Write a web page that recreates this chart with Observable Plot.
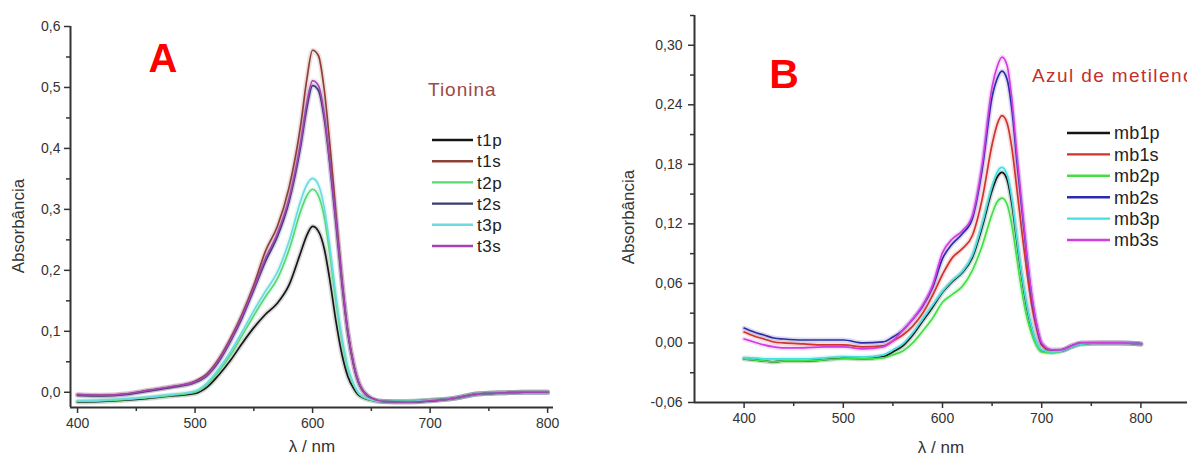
<!DOCTYPE html>
<html><head><meta charset="utf-8">
<script src="https://cdn.jsdelivr.net/npm/d3@7"></script>
<script src="https://cdn.jsdelivr.net/npm/@observablehq/plot@0.6"></script>
<style>
html,body{margin:0;padding:0;background:#fff;overflow:hidden;}
#wrap{position:relative;width:1187px;height:460px;overflow:hidden;font-family:"Liberation Sans",Arial,sans-serif;}
#wrap > *{position:absolute;top:0;}
</style></head><body><div id="wrap"></div>
<script>
// ---------- Panel A (Tionina) ----------
const wavelengthsA = [400,420,440,460,480,500,510,520,530,540,550,560,570,580,590,595,600,605,610,615,620,625,630,635,640,650,660,680,700,720,740,760,780,800];
const t1p = [-0.016,-0.015,-0.013,-0.010,-0.006,-0.002,0.008,0.028,0.052,0.080,0.106,0.128,0.146,0.176,0.230,0.257,0.272,0.264,0.235,0.180,0.115,0.062,0.026,0.006,-0.006,-0.013,-0.015,-0.015,-0.013,-0.010,-0.003,-0.001,0.000,0.000];
const t1s = [-0.004,-0.005,-0.003,0.003,0.009,0.018,0.030,0.054,0.088,0.128,0.176,0.232,0.272,0.336,0.440,0.512,0.561,0.552,0.495,0.400,0.290,0.185,0.100,0.045,0.012,-0.010,-0.015,-0.016,-0.014,-0.010,-0.003,-0.001,0.000,0.000];
const t2p = [-0.015,-0.014,-0.012,-0.009,-0.005,0.000,0.012,0.034,0.061,0.093,0.126,0.157,0.186,0.234,0.298,0.322,0.333,0.322,0.287,0.222,0.148,0.085,0.038,0.012,-0.004,-0.013,-0.015,-0.015,-0.013,-0.010,-0.003,-0.001,0.000,0.000];
const t2s = [-0.005,-0.006,-0.004,0.002,0.008,0.016,0.027,0.050,0.083,0.122,0.168,0.215,0.255,0.313,0.405,0.465,0.503,0.495,0.448,0.368,0.275,0.178,0.097,0.044,0.012,-0.010,-0.015,-0.016,-0.014,-0.010,-0.003,-0.001,0.000,0.000];
const t3p = [-0.014,-0.013,-0.011,-0.008,-0.004,0.002,0.015,0.038,0.066,0.099,0.134,0.166,0.197,0.248,0.315,0.340,0.351,0.340,0.302,0.234,0.156,0.090,0.041,0.013,-0.003,-0.012,-0.015,-0.015,-0.013,-0.010,-0.003,-0.001,0.000,0.000];
const t3s = [-0.004,-0.005,-0.003,0.003,0.009,0.017,0.028,0.052,0.085,0.125,0.171,0.220,0.260,0.318,0.412,0.473,0.511,0.503,0.455,0.373,0.280,0.182,0.099,0.045,0.013,-0.010,-0.015,-0.016,-0.014,-0.010,-0.003,-0.001,0.000,0.000];
const namesA = ["t1p","t1s","t2p","t2s","t3p","t3s"];
const colorsA = ["#161616","#8e4038","#58d874","#3c3c6e","#6adbe2","#a444b4"];
const xDomainA = [394, 805];
const yDomainA = [-0.025, 0.6];
const xTicksA = [400,500,600,700,800];
const xMinorA = [450,550,650,750];
const yTicksA = [0.0,0.1,0.2,0.3,0.4,0.5,0.6];
const yMinorA = [0.05,0.15,0.25,0.35,0.45,0.55];

// ---------- Panel B (Azul de metileno) ----------
const wavelengthsB = [400,410,420,430,440,460,480,500,520,540,550,560,570,580,590,600,610,620,630,640,650,655,660,665,670,675,680,685,690,695,700,710,720,730,740,760,780,800];
const mb1p = [-0.016,-0.017,-0.018,-0.019,-0.018,-0.018,-0.017,-0.015,-0.016,-0.014,-0.009,-0.003,0.008,0.022,0.036,0.051,0.062,0.071,0.086,0.117,0.154,0.167,0.172,0.165,0.140,0.102,0.066,0.036,0.014,-0.001,-0.008,-0.009,-0.008,-0.004,-0.001,0.000,0.000,-0.001];
const mb1s = [0.011,0.007,0.004,0.001,0.000,-0.001,-0.002,-0.002,-0.004,-0.003,0.002,0.008,0.017,0.030,0.048,0.069,0.086,0.095,0.108,0.145,0.200,0.220,0.229,0.222,0.196,0.155,0.112,0.072,0.038,0.014,-0.002,-0.008,-0.007,-0.003,0.000,0.000,0.000,-0.001];
const mb2p = [-0.016,-0.017,-0.018,-0.019,-0.018,-0.018,-0.017,-0.016,-0.016,-0.015,-0.012,-0.008,0.000,0.012,0.025,0.041,0.049,0.057,0.073,0.098,0.130,0.142,0.146,0.140,0.118,0.085,0.052,0.026,0.009,-0.003,-0.009,-0.010,-0.008,-0.004,-0.001,0.000,0.000,-0.001];
const mb2s = [0.015,0.011,0.008,0.005,0.004,0.003,0.003,0.003,0.000,0.001,0.006,0.013,0.024,0.037,0.056,0.085,0.100,0.110,0.125,0.175,0.248,0.266,0.274,0.266,0.235,0.183,0.135,0.087,0.046,0.017,-0.001,-0.007,-0.007,-0.003,0.000,0.000,0.000,-0.001];
const mb3p = [-0.015,-0.015,-0.016,-0.016,-0.016,-0.016,-0.015,-0.014,-0.014,-0.012,-0.007,-0.001,0.010,0.024,0.038,0.052,0.063,0.072,0.088,0.120,0.158,0.172,0.177,0.170,0.145,0.105,0.068,0.038,0.015,0.000,-0.007,-0.009,-0.008,-0.004,-0.001,0.000,0.000,-0.001];
const mb3s = [0.004,0.001,-0.002,-0.004,-0.005,-0.005,-0.004,-0.004,-0.006,-0.004,0.002,0.013,0.024,0.038,0.058,0.091,0.105,0.113,0.128,0.180,0.258,0.278,0.288,0.280,0.245,0.190,0.140,0.090,0.048,0.018,0.000,-0.007,-0.007,-0.003,0.000,0.000,0.000,-0.001];
const namesB = ["mb1p","mb1s","mb2p","mb2s","mb3p","mb3s"];
const colorsB = ["#141414","#d0332b","#44df44","#2c2cab","#44e0e0","#d23ce2"];
const xDomainB = [350, 850];
const yDomainB = [-0.06, 0.33];
const xTicksB = [400,500,600,700,800];
const xMinorB = [450,550,650,750,850];
const yTicksB = [-0.06,0.00,0.06,0.12,0.18,0.24,0.30];
const yMinorB = [-0.03,0.03,0.09,0.15,0.21,0.27,0.33];

const FONT = '"Liberation Sans", Arial, sans-serif';
const INK = "#333";

function rowsOf(wl, names, arrays) {
  return names.flatMap((n, k) => wl.map((w, i) => ({w, v: arrays[k][i], name: n})));
}
const rowsA = rowsOf(wavelengthsA, namesA, [t1p,t1s,t2p,t2s,t3p,t3s]);
const rowsB = rowsOf(wavelengthsB, namesB, [mb1p,mb1s,mb2p,mb2s,mb3p,mb3s]);

const fmtA = d => d3.format(".1f")(d).replace("−","-").replace(".", ",");
const fmtB = d => d3.format(".2f")(d).replace("−","-").replace(".", ",");

function panel(o) {
  return Plot.plot({
    width: o.width, height: 460,
    marginLeft: o.ml, marginRight: o.mr, marginTop: o.mt, marginBottom: o.mb,
    x: {domain: o.xd},
    y: {domain: o.yd},
    color: {domain: o.names, range: o.colors},
    style: {fontFamily: FONT, fontSize: "14px", color: INK, background: "transparent", overflow: "visible"},
    marks: [
      Plot.line(o.rows, {x: "w", y: "v", z: "name", stroke: "name", curve: "monotone-x", strokeWidth: 5, strokeOpacity: 0.16}),
      Plot.line(o.rows, {x: "w", y: "v", z: "name", stroke: "name", curve: "monotone-x", strokeWidth: 1.7}),
      Plot.ruleX([o.xd[0]], {stroke: INK, strokeWidth: 2}),
      Plot.ruleY([o.yd[0]], {stroke: INK, strokeWidth: 2}),
      Plot.axisY(o.yt, {tickSize: 6, tickPadding: o.ypad, tickFormat: o.fmt, label: null, stroke: INK, strokeWidth: 1.5, fontSize: 14}),
      Plot.axisY(o.ym, {tickSize: 4, tickFormat: () => "", label: null, stroke: INK, strokeWidth: 1.5}),
      Plot.axisX(o.xt, {tickSize: 6, tickPadding: 5, label: null, stroke: INK, strokeWidth: 1.5, fontSize: 14}),
      Plot.axisX(o.xm, {tickSize: 4, tickFormat: () => "", label: null, stroke: INK, strokeWidth: 1.5})
    ]
  });
}

const wrap = document.getElementById("wrap");
const pA = panel({width: 600, ml: 70, mr: 47, mt: 26, mb: 53, xd: xDomainA, yd: yDomainA,
  names: namesA, colors: colorsA, rows: rowsA, xt: xTicksA, xm: xMinorA, yt: yTicksA, ym: yMinorA, fmt: fmtA, ypad: 4});
pA.style.left = "0px";
wrap.appendChild(pA);
const pB = panel({width: 600, ml: 94, mr: 10, mt: 15, mb: 58, xd: xDomainB, yd: yDomainB,
  names: namesB, colors: colorsB, rows: rowsB, xt: xTicksB, xm: xMinorB, yt: yTicksB, ym: yMinorB, fmt: fmtB, ypad: 6});
pB.style.left = "600px";
wrap.appendChild(pB);

// ---------- overlay texts & legends ----------
const ov = d3.select(wrap).append("svg").attr("width", 1187).attr("height", 460)
  .style("left", "0px").style("overflow", "hidden").style("pointer-events", "none")
  .attr("font-family", FONT);

ov.append("text").attr("x", 163).attr("y", 72).attr("text-anchor", "middle")
  .attr("font-size", 40).attr("font-weight", "bold").attr("fill", "#ff0000").text("A");
ov.append("text").attr("x", 784).attr("y", 88).attr("text-anchor", "middle")
  .attr("font-size", 41).attr("font-weight", "bold").attr("fill", "#ff0000").text("B");

ov.append("text").attr("x", 428).attr("y", 96).attr("font-size", 19).attr("letter-spacing", 1)
  .attr("fill", "#9c4a46").text("Tionina");
ov.append("text").attr("x", 1032).attr("y", 82).attr("font-size", 19).attr("letter-spacing", 1.4)
  .attr("fill", "#c4302a").text("Azul de metileno");

function legend(names, colors, x0, x1, tx, y0, dy, fs, ls) {
  const g = ov.append("g");
  names.forEach((n, i) => {
    const y = y0 + i * dy;
    g.append("line").attr("x1", x0).attr("x2", x1).attr("y1", y).attr("y2", y)
      .attr("stroke", colors[i]).attr("stroke-width", 2.4);
    g.append("text").attr("x", tx).attr("y", y + fs * 0.36).attr("font-size", fs)
      .attr("letter-spacing", ls).attr("fill", "#222").text(n);
  });
}
legend(namesA, colorsA, 432, 473, 477, 140, 21.2, 17, 0.5);
legend(namesB, colorsB, 1067, 1110, 1114, 133, 21.4, 18, 0.2);

// axis titles
ov.append("text").attr("transform", "translate(24,226) rotate(-90)").attr("text-anchor", "middle")
  .attr("font-size", 17).attr("fill", INK).text("Absorbância");
ov.append("text").attr("transform", "translate(634,217) rotate(-90)").attr("text-anchor", "middle")
  .attr("font-size", 17).attr("fill", INK).text("Absorbância");
ov.append("text").attr("x", 312).attr("y", 452).attr("text-anchor", "middle")
  .attr("font-size", 17).attr("fill", INK).text("λ / nm");
ov.append("text").attr("x", 941).attr("y", 453).attr("text-anchor", "middle")
  .attr("font-size", 17).attr("fill", INK).text("λ / nm");
</script>
</body></html>
